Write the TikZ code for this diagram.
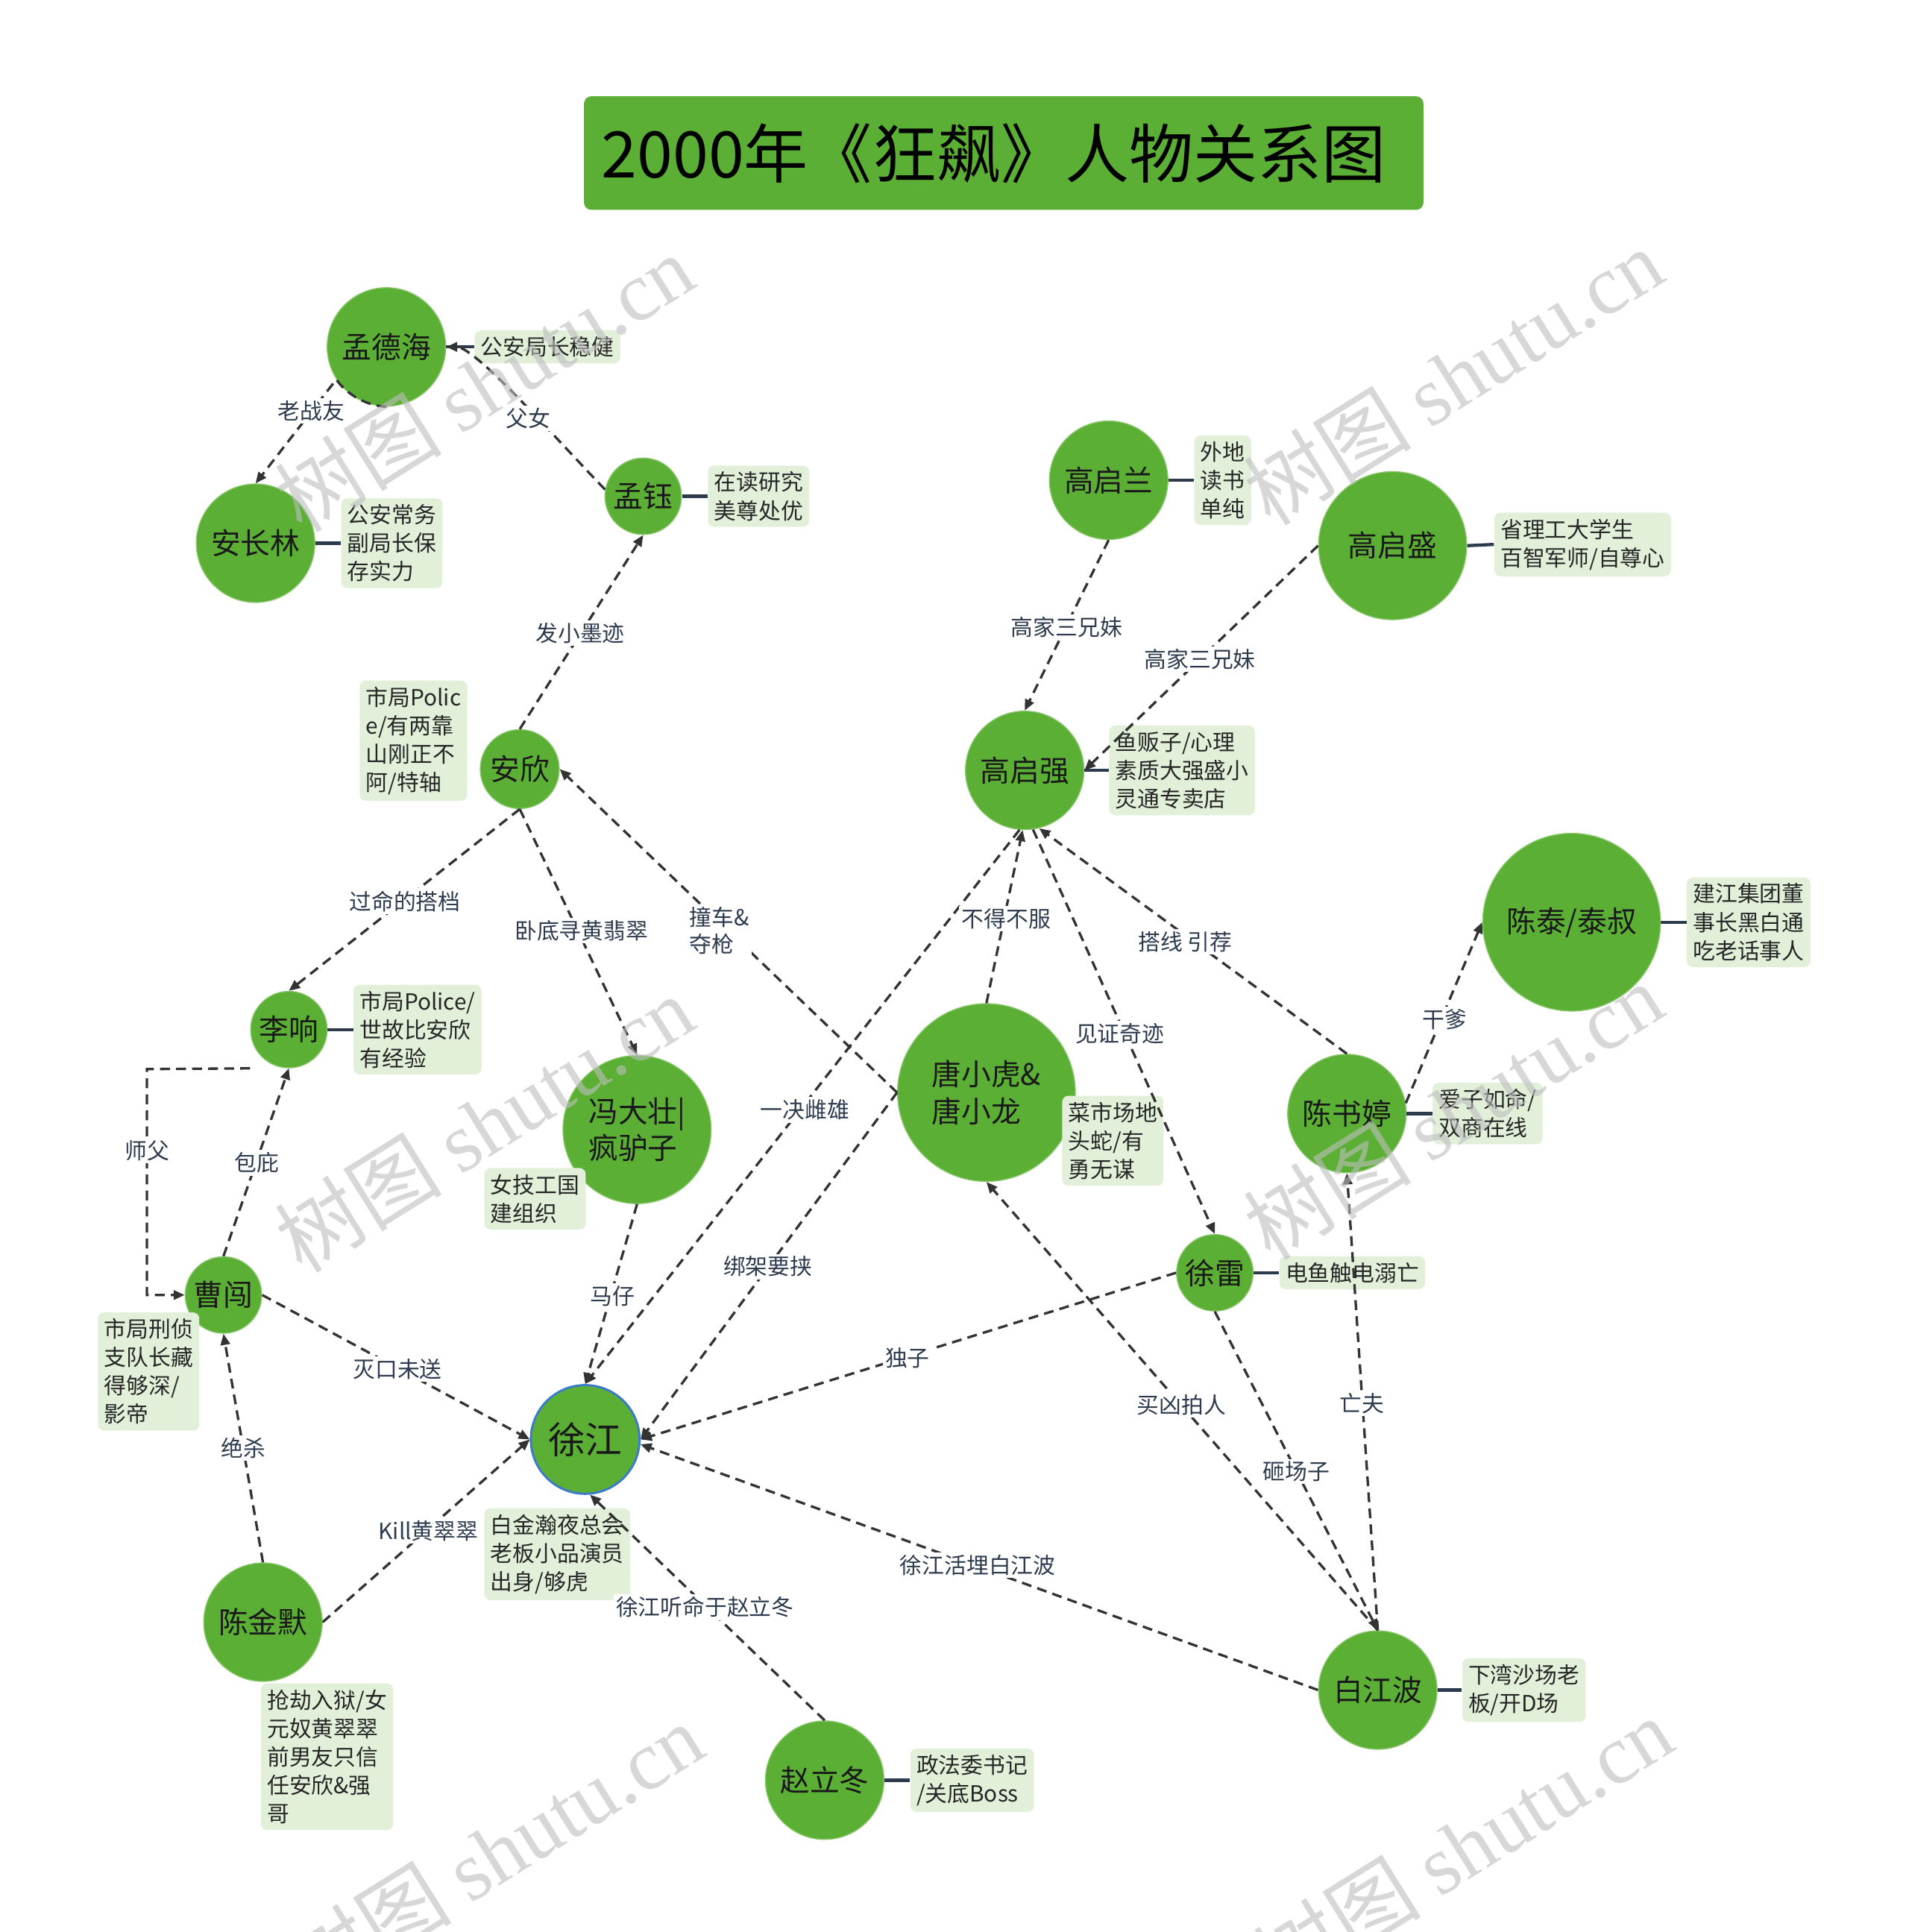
\documentclass[tikz,border=0pt]{standalone}
\usepackage{fontspec}
\setmainfont{Noto Sans CJK SC}
\newfontfamily\wmlatin{Liberation Serif}
\usetikzlibrary{arrows.meta,calc}
\definecolor{nodegreen}{HTML}{5CAF35}
\definecolor{nodeedge}{HTML}{8CC870}
\definecolor{notefill}{HTML}{E2F0D9}
\definecolor{edgec}{HTML}{333333}
\definecolor{labelc}{HTML}{2E3B4E}
\definecolor{linkc}{HTML}{2E3A4D}
\definecolor{xjblue}{HTML}{3B7BC8}
\definecolor{wmc}{HTML}{BDBDBD}
\begin{document}
\begin{tikzpicture}[x=0.5pt,y=-0.5pt,
  person/.style={circle,fill=nodegreen,draw=nodeedge,line width=0.4pt,inner sep=0pt,
    text=black!90,font=\fontsize{12}{15}\selectfont,align=left},
  note/.style={fill=notefill,rounded corners=2.5pt,inner xsep=2.5pt,inner ysep=2.5pt,
    align=left,font=\fontsize{9}{11.5}\selectfont,text=black!85,anchor=west},
  link/.style={draw=linkc,line width=1.3pt},
  edge/.style={draw=edgec,line width=1pt,dash pattern=on 4pt off 2.5pt,
    -{Triangle[length=4.5pt,width=3.8pt]}},
  lbl/.style={fill=white,inner sep=1pt,text=labelc,font=\fontsize{9}{11}\selectfont,align=left},
  wm/.style={rotate=32,text=wmc,opacity=0.6,font=\fontsize{34}{34}\selectfont},
  titlebox/.style={fill=nodegreen,rounded corners=3pt,minimum width=340pt,minimum height=46pt},
  titletext/.style={font=\fontsize{26}{30}\selectfont,text=black,inner sep=0pt}
]
\useasboundingbox (0,0) rectangle (1546,1565);
\fill[white] (0,0) rectangle (1546,1565);

% title
\node[titlebox] (title) at (813,124) {};
\node[titletext] (titlet) at (805,124) {2000年《狂飙》人物关系图};

% persons
\node[person,minimum size=48pt] (mdh) at (313,281) {孟德海};
\node[person,minimum size=48pt] (acl) at (207,440) {安长林};
\node[person,minimum size=31pt] (my) at (521,402) {孟钰};
\node[person,minimum size=32pt] (ax) at (421,623) {安欣};
\node[person,minimum size=48pt] (gql) at (898,389) {高启兰};
\node[person,minimum size=60pt] (gqs) at (1128,442) {高启盛};
\node[person,minimum size=48pt] (gqq) at (830,624) {高启强};
\node[person,minimum size=72pt] (ct) at (1273,747) {陈泰/泰叔};
\node[person,minimum size=31pt] (lx) at (234,834) {李响};
\node[person,minimum size=60pt] (fdz) at (516,915) {冯大壮|\\疯驴子};
\node[person,minimum size=72pt] (txh) at (799,885) {唐小虎\&\\唐小龙};
\node[person,minimum size=48pt] (cst) at (1091,902) {陈书婷};
\node[person,minimum size=31pt] (xl) at (984,1031) {徐雷};
\node[person,minimum size=31pt] (cc) at (181,1049) {曹闯};
\node[person,minimum size=44pt,draw=xjblue,line width=0.9pt,font=\fontsize{15}{18}\selectfont] (xj) at (474,1166) {徐江};
\node[person,minimum size=48pt] (cjm) at (213,1314) {陈金默};
\node[person,minimum size=48pt] (bjb) at (1116,1369) {白江波};
\node[person,minimum size=48pt] (zld) at (668,1442) {赵立冬};

% notes
\node[note] (n1) at (384,281) {公安局长稳健};
\node[note] (n2) at (573,402) {在读研究\\美尊处优};
\node[note] (n3) at (276,440) {公安常务\\副局长保\\存实力};
\node[note] (n4) at (291,600) {市局Polic\\e/有两靠\\山刚正不\\阿/特轴};
\node[note] (n5) at (967,389) {外地\\读书\\单纯};
\node[note] (n6) at (1210,441) {省理工大学生\\百智军师/自尊心};
\node[note] (n7) at (898,624) {鱼贩子/心理\\素质大强盛小\\灵通专卖店};
\node[note] (n8) at (1366,747) {建江集团董\\事长黑白通\\吃老话事人};
\node[note] (n9) at (286,834) {市局Police/\\世故比安欣\\有经验};
\node[note] (n10) at (392,971) {女技工国\\建组织};
\node[note] (n11) at (860,924) {菜市场地\\头蛇/有\\勇无谋};
\node[note] (n12) at (1160,902) {爱子如命/\\双商在线};
\node[note] (n13) at (1036,1031) {电鱼触电溺亡};
\node[note] (n14) at (79,1111) {市局刑侦\\支队长藏\\得够深/\\影帝};
\node[note] (n15) at (392,1259) {白金瀚夜总会\\老板小品演员\\出身/够虎};
\node[note] (n16) at (211,1423) {抢劫入狱/女\\元奴黄翠翠\\前男友只信\\任安欣\&强\\哥};
\node[note] (n17) at (1184,1369) {下湾沙场老\\板/开D场};
\node[note] (n18) at (737,1442) {政法委书记\\/关底Boss};

% note links
\draw[link] (mdh.east) -- (n1.west);
\draw[link] (my.east) -- (n2.west);
\draw[link] (acl.east) -- (n3.west);
\draw[link] (gql.east) -- (n5.west);
\draw[link] (gqs.east) -- (n6.west);
\draw[link] (gqq.east) -- (n7.west);
\draw[link] (ct.east) -- (n8.west);
\draw[link] (lx.east) -- (n9.west);
\draw[link] (cst.east) -- (n12.west);
\draw[link] (xl.east) -- (n13.west);
\draw[link] (bjb.east) -- (n17.west);
\draw[link] (zld.east) -- (n18.west);

% edges
\draw[edge] (mdh.270) .. controls (298,329) and (281,320) .. (mdh.213) -- (acl.north);
\draw[edge] (my.170) .. controls (450,355) and (385,281) .. (mdh.east);
\draw[edge] (ax.north) -- (my.south);
\draw[edge] (ax.south) -- (lx.north);
\draw[edge] (ax.south) -- (fdz.north);
\draw[edge] (txh.west) -- (ax.east);
\draw[edge] (gql.south) -- (gqq.north);
\draw[edge] (gqs.west) -- (gqq.east);
\draw[edge] (txh.north) -- (gqq.-92);
\draw[edge] (gqq.-95) -- (xj.north);
\draw[edge] (txh.west) -- (xj.east);
\draw[edge] (gqq.-82) -- (xl.north);
\draw[edge] (cst.north) -- (gqq.-76);
\draw[edge] (cst.10) -- (ct.west);
\draw[edge] (bjb.north) -- (cst.south);
\draw[edge] (xl.west) -- (xj.east);
\draw[edge] (xl.south) -- (bjb.north);
\draw[edge] (bjb.north) -- (txh.south);
\draw[edge] (bjb.west) -- (xj.-5);
\draw[edge] (zld.north) -- (xj.-85);
\draw[edge] (cjm.east) -- (xj.west);
\draw[edge] (cc.east) -- (xj.west);
\draw[edge] (cjm.north) -- (cc.south);
\draw[edge] (cc.north) -- (lx.south);
\coordinate (sf) at (119,866);
\draw[edge] (lx.south -| lx.west) -- (sf) |- (cc.west);
\draw[edge] (fdz.south) -- (xj.north);

% labels
\node[lbl] at (252,333) {老战友};
\node[lbl] at (428,339) {父女};
\node[lbl] at (470,513) {发小墨迹};
\node[lbl] at (328,730) {过命的搭档};
\node[lbl] at (471,754) {卧底寻黄翡翠};
\node[lbl,anchor=west] at (556,754) {撞车\&\\夺枪};
\node[lbl] at (864,508) {高家三兄妹};
\node[lbl] at (972,534) {高家三兄妹};
\node[lbl] at (815,744) {不得不服};
\node[lbl] at (652,899) {一决雌雄};
\node[lbl] at (622,1026) {绑架要挟};
\node[lbl] at (907,837) {见证奇迹};
\node[lbl] at (960,763) {搭线 引荐};
\node[lbl] at (1170,826) {干爹};
\node[lbl] at (1103,1137) {亡夫};
\node[lbl] at (735,1100) {独子};
\node[lbl] at (1050,1192) {砸场子};
\node[lbl] at (957,1138) {买凶拍人};
\node[lbl] at (792,1268) {徐江活埋白江波};
\node[lbl] at (571,1302) {徐江听命于赵立冬};
\node[lbl] at (347,1240) {Kill黄翠翠};
\node[lbl] at (322,1109) {灭口未送};
\node[lbl] at (197,1173) {绝杀};
\node[lbl] at (208,942) {包庇};
\node[lbl] at (119,932) {师父};
\node[lbl] at (496,1050) {马仔};

% watermarks
\node[wm] at (392,310) {树图 {\wmlatin shutu.cn}};
\node[wm] at (1177,305) {树图 {\wmlatin shutu.cn}};
\node[wm] at (392,910) {树图 {\wmlatin shutu.cn}};
\node[wm] at (1177,900) {树图 {\wmlatin shutu.cn}};
\node[wm] at (400,1500) {树图 {\wmlatin shutu.cn}};
\node[wm] at (1185,1495) {树图 {\wmlatin shutu.cn}};
\end{tikzpicture}
\end{document}
